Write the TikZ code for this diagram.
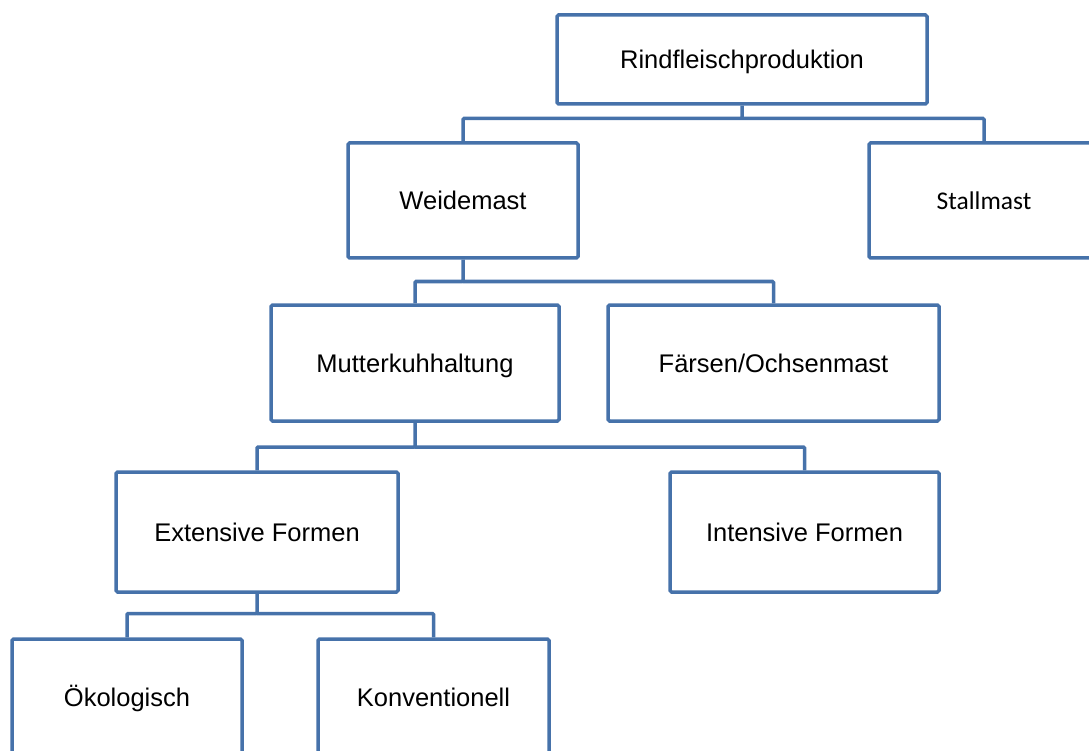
\documentclass[tikz,border=0pt]{standalone}
\usepackage{fontspec}
\setmainfont{Liberation Sans}
\newfontfamily\calibrifont{Carlito}
\usepackage{tikz}
\usetikzlibrary{positioning,calc}
\definecolor{boxblue}{RGB}{70,114,170}
\tikzset{
    % Define box style
    orgbox/.style={
           draw=boxblue,
           line width=3.5pt,
           rounded corners=1.5pt,
           fill=white,
           align=center,
           text height=22pt,
           text depth=4pt,
           font=\fontsize{25.5}{30}\selectfont},
    % Define connector style
    link/.style={
           draw=boxblue,
           line width=3.5pt,
           rounded corners=1pt}
}

\begin{document}
\begin{tikzpicture}[x=1pt,y=-1pt]
\useasboundingbox (0,0) rectangle (1089,751);
\clip (0,0) rectangle (1089,751);

\node[orgbox, minimum width=370pt, minimum height=89pt] (rind) at (742,59.5) {Rindfleischproduktion};

\node[orgbox, minimum width=230pt, minimum height=115pt] (weide) at (463,200.5) {Weidemast};
\node[orgbox, minimum width=230pt, minimum height=115pt, font=\calibrifont\fontsize{25.5}{30}\selectfont] (stall) at (984,200.5) {Stallmast};

\node[orgbox, minimum width=288pt, minimum height=116pt] (muku) at (415,363) {Mutterkuhhaltung};
\node[orgbox, minimum width=331pt, minimum height=116pt] (faers) at (773.5,363) {Färsen/Ochsenmast};

\node[orgbox, minimum width=282pt, minimum height=120pt] (ext) at (257,532) {Extensive Formen};
\node[orgbox, minimum width=269pt, minimum height=120pt] (int) at (804.5,532) {Intensive Formen};

\node[orgbox, minimum width=230pt, minimum height=116pt] (oeko) at (127,697) {Ökologisch};
\node[orgbox, minimum width=231pt, minimum height=116pt] (konv) at (433.5,697) {Konventionell};

% bars between levels
\coordinate (bar1) at (0,118.5);
\coordinate (bar2) at (0,281.5);
\coordinate (bar3) at (0,447);
\coordinate (bar4) at (0,613.5);

\draw[link] (rind.south) -- (rind.south |- bar1) -| (weide.north);
\draw[link] (rind.south |- bar1) -| (stall.north);

\draw[link] (weide.south) -- (weide.south |- bar2) -| (muku.north);
\draw[link] (weide.south |- bar2) -| (faers.north);

\draw[link] (muku.south) -- (muku.south |- bar3) -| (ext.north);
\draw[link] (muku.south |- bar3) -| (int.north);

\draw[link] (ext.south) -- (ext.south |- bar4) -| (oeko.north);
\draw[link] (ext.south |- bar4) -| (konv.north);
\end{tikzpicture}
\end{document}
